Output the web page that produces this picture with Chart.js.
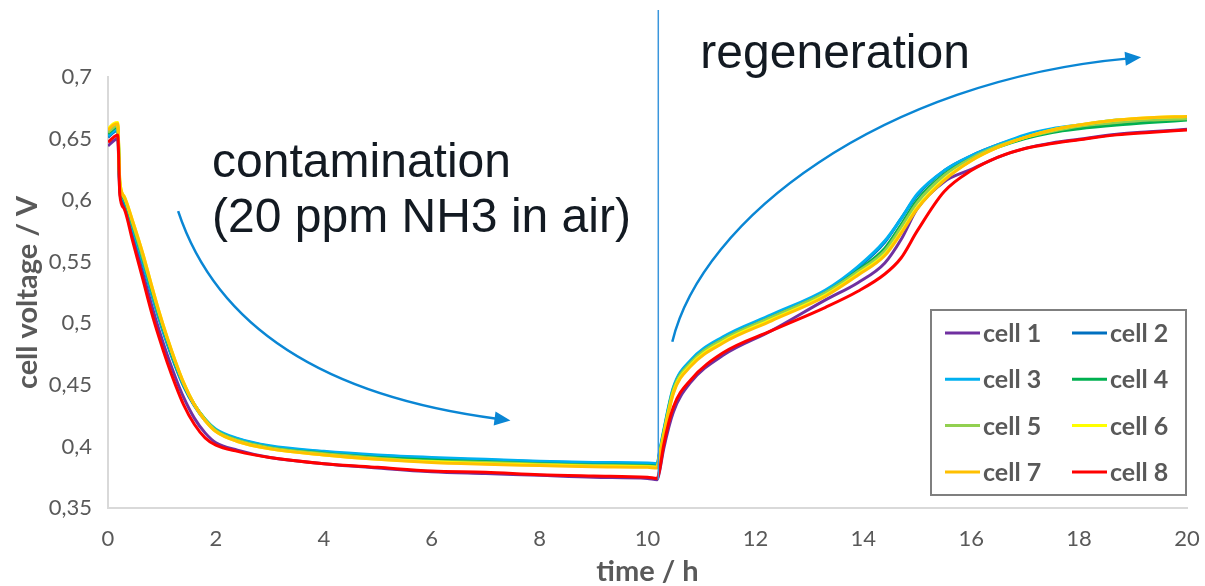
<!DOCTYPE html>
<html>
<head>
<meta charset="utf-8">
<script src="https://cdn.jsdelivr.net/npm/chart.js@4.4.1/dist/chart.umd.min.js"></script>
<style>
  html, body { margin: 0; padding: 0; background: #fff; }
  #wrap { width: 1205px; height: 586px; }
</style>
</head>
<body>
<div id="wrap"><canvas id="chart" width="1205" height="586"></canvas></div>
<script>
// time in hours
const hours = [0, 0.1, 0.18, 0.22, 0.3, 0.45, 0.65, 0.8, 0.95, 1.1, 1.25, 1.4, 1.6, 1.8, 2.0, 2.4, 3, 4, 5, 6, 7, 8, 9, 10, 10.18,
  10.22, 10.3, 10.48, 10.8, 11.4, 12.3, 13.3, 13.9, 14.4, 14.7, 15.0, 15.5, 16.0, 16.5, 17.0, 17.5, 18.0, 18.7, 19.3, 20];

// cell voltages / V
const cell1 = [0.644, 0.648, 0.650, 0.606, 0.596, 0.572, 0.540, 0.516, 0.494, 0.474, 0.456, 0.440, 0.423, 0.411, 0.403, 0.397, 0.391, 0.386, 0.3825, 0.3795, 0.378, 0.3765, 0.375, 0.374, 0.373,
  0.379, 0.398, 0.428, 0.452, 0.474, 0.494, 0.519, 0.533, 0.549, 0.568, 0.593, 0.615, 0.625, 0.635, 0.642, 0.6465, 0.6495, 0.6535, 0.6555, 0.6575];
const cell2 = [0.651, 0.655, 0.657, 0.609, 0.599, 0.578, 0.548, 0.525, 0.503, 0.483, 0.465, 0.449, 0.433, 0.421, 0.413, 0.406, 0.400, 0.3955, 0.3925, 0.3905, 0.389, 0.3875, 0.3865, 0.386, 0.3855,
  0.394, 0.412, 0.447, 0.469, 0.488, 0.506, 0.526, 0.545, 0.566, 0.585, 0.604, 0.624, 0.636, 0.645, 0.652, 0.657, 0.660, 0.663, 0.665, 0.666];
const cell3 = [0.652, 0.656, 0.658, 0.610, 0.600, 0.579, 0.549, 0.526, 0.504, 0.484, 0.466, 0.450, 0.434, 0.422, 0.414, 0.4065, 0.4005, 0.396, 0.393, 0.391, 0.3895, 0.388, 0.387, 0.3865, 0.386,
  0.395, 0.413, 0.448, 0.470, 0.489, 0.507, 0.527, 0.546, 0.567, 0.585, 0.605, 0.624, 0.636, 0.645, 0.653, 0.658, 0.661, 0.665, 0.666, 0.667];
const cell4 = [0.654, 0.658, 0.660, 0.612, 0.601, 0.581, 0.552, 0.529, 0.506, 0.486, 0.467, 0.451, 0.434, 0.422, 0.413, 0.405, 0.399, 0.3945, 0.391, 0.389, 0.3875, 0.386, 0.385, 0.3845, 0.384,
  0.393, 0.411, 0.446, 0.468, 0.487, 0.505, 0.525, 0.543, 0.561, 0.580, 0.600, 0.621, 0.634, 0.643, 0.650, 0.655, 0.658, 0.661, 0.663, 0.665];
const cell5 = [0.655, 0.659, 0.661, 0.613, 0.602, 0.582, 0.553, 0.530, 0.507, 0.487, 0.468, 0.451, 0.434, 0.422, 0.413, 0.405, 0.399, 0.394, 0.3905, 0.388, 0.387, 0.3855, 0.3845, 0.384, 0.3835,
  0.393, 0.411, 0.446, 0.468, 0.487, 0.505, 0.525, 0.542, 0.559, 0.578, 0.598, 0.620, 0.634, 0.644, 0.651, 0.656, 0.660, 0.663, 0.665, 0.666];
const cell6 = [0.658, 0.662, 0.663, 0.615, 0.603, 0.584, 0.556, 0.532, 0.509, 0.488, 0.469, 0.452, 0.434, 0.421, 0.412, 0.404, 0.398, 0.393, 0.3895, 0.3875, 0.386, 0.385, 0.384, 0.3835, 0.383,
  0.392, 0.409, 0.444, 0.466, 0.485, 0.503, 0.523, 0.540, 0.556, 0.574, 0.594, 0.617, 0.632, 0.643, 0.651, 0.657, 0.661, 0.665, 0.667, 0.668];
const cell7 = [0.657, 0.661, 0.662, 0.615, 0.603, 0.584, 0.556, 0.532, 0.509, 0.488, 0.469, 0.452, 0.434, 0.421, 0.412, 0.404, 0.398, 0.393, 0.3895, 0.387, 0.3855, 0.3845, 0.3835, 0.383, 0.3825,
  0.391, 0.408, 0.443, 0.465, 0.484, 0.502, 0.522, 0.539, 0.555, 0.573, 0.593, 0.616, 0.632, 0.643, 0.651, 0.657, 0.661, 0.665, 0.667, 0.668];
const cell8 = [0.647, 0.651, 0.653, 0.604, 0.593, 0.568, 0.535, 0.510, 0.488, 0.468, 0.450, 0.434, 0.418, 0.407, 0.401, 0.396, 0.391, 0.386, 0.383, 0.380, 0.379, 0.377, 0.376, 0.375, 0.374,
  0.380, 0.401, 0.432, 0.454, 0.476, 0.494, 0.513, 0.526, 0.540, 0.553, 0.575, 0.607, 0.624, 0.635, 0.642, 0.646, 0.649, 0.653, 0.655, 0.657];

const cellNames = ['cell 1', 'cell 2', 'cell 3', 'cell 4', 'cell 5', 'cell 6', 'cell 7', 'cell 8'];
const cellColors = ['#7030a0', '#0070c0', '#00b0f0', '#00b050', '#92d050', '#ffff00', '#ffc000', '#ff0000'];
const cellValues = [cell1, cell2, cell3, cell4, cell5, cell6, cell7, cell8];

const xTicksStep = 2;
const yTicksStep = 0.05;

// annotation anchors, in data units (h, V)
const switchTime = 10.2;
const contamArrow = [[1.30, 0.591], [2.37, 0.450], [7.46, 0.421]];
const regenArrow = [[10.46, 0.485], [11.0, 0.584], [14.32, 0.697], [19.15, 0.716]];

const gray = '#595959';

// legend drawn inside the plot, two columns
const boxLegend = {
  id: 'boxLegend',
  afterDatasetsDraw(chart) {
    const {ctx, chartArea} = chart;
    const w = 255, h = 185;
    const x0 = chartArea.right - w - 1, y0 = chartArea.bottom - h - 13;
    ctx.save();
    ctx.fillStyle = '#fff';
    ctx.fillRect(x0, y0, w, h);
    ctx.strokeStyle = '#7f7f7f';
    ctx.lineWidth = 2;
    ctx.strokeRect(x0, y0, w, h);
    ctx.font = 'bold 25px Lato';
    ctx.textBaseline = 'middle';
    chart.data.datasets.forEach((ds, i) => {
      const col = i % 2, row = Math.floor(i / 2);
      const lx = x0 + 14 + col * 127;
      const ly = y0 + 23 + row * 46.3;
      ctx.strokeStyle = ds.borderColor;
      ctx.lineWidth = 3;
      ctx.beginPath();
      ctx.moveTo(lx, ly);
      ctx.lineTo(lx + 35, ly);
      ctx.stroke();
      ctx.fillStyle = gray;
      ctx.fillText(ds.label, lx + 38, ly + 1);
    });
    ctx.restore();
  }
};

function arrowHead(ctx, from, tip) {
  const a = Math.atan2(tip[1] - from[1], tip[0] - from[0]);
  const len = 16, half = 7;
  ctx.beginPath();
  ctx.moveTo(tip[0], tip[1]);
  ctx.lineTo(tip[0] - len * Math.cos(a) + half * Math.sin(a), tip[1] - len * Math.sin(a) - half * Math.cos(a));
  ctx.lineTo(tip[0] - len * Math.cos(a) - half * Math.sin(a), tip[1] - len * Math.sin(a) + half * Math.cos(a));
  ctx.closePath();
  ctx.fill();
}

const notes = {
  id: 'notes',
  afterDraw(chart) {
    const {ctx} = chart;
    const xs = chart.scales.x, ys = chart.scales.y;
    const px = p => [xs.getPixelForValue(p[0]), ys.getPixelForValue(p[1])];
    ctx.save();

    // switch to regeneration
    ctx.strokeStyle = '#3a96dc';
    ctx.lineWidth = 1.5;
    ctx.beginPath();
    ctx.moveTo(xs.getPixelForValue(switchTime), 10);
    ctx.lineTo(xs.getPixelForValue(switchTime), ys.getPixelForValue(0.373));
    ctx.stroke();

    ctx.strokeStyle = '#0a86d4';
    ctx.fillStyle = '#0a86d4';
    ctx.lineWidth = 2.5;

    // contamination arrow (quadratic)
    let [a, c, b] = contamArrow.map(px);
    let ang = Math.atan2(b[1] - c[1], b[0] - c[0]);
    let end = [b[0] - 12 * Math.cos(ang), b[1] - 12 * Math.sin(ang)];
    ctx.beginPath();
    ctx.moveTo(a[0], a[1]);
    ctx.quadraticCurveTo(c[0], c[1], end[0], end[1]);
    ctx.stroke();
    arrowHead(ctx, c, b);

    // regeneration arrow (cubic)
    const [r0, r1, r2, r3] = regenArrow.map(px);
    ang = Math.atan2(r3[1] - r2[1], r3[0] - r2[0]);
    end = [r3[0] - 12 * Math.cos(ang), r3[1] - 12 * Math.sin(ang)];
    ctx.beginPath();
    ctx.moveTo(r0[0], r0[1]);
    ctx.bezierCurveTo(r1[0], r1[1], r2[0], r2[1], end[0], end[1]);
    ctx.stroke();
    arrowHead(ctx, r2, r3);

    // labels
    ctx.fillStyle = '#131a22';
    ctx.font = '48px "Liberation Sans", Arial, sans-serif';
    ctx.textBaseline = 'alphabetic';
    ctx.textAlign = 'left';
    let p = px([1.93, 0.6187]);
    ctx.fillText('contamination', p[0], p[1]);
    p = px([1.93, 0.5745]);
    ctx.fillText('(20 ppm NH3 in air)', p[0], p[1]);
    p = px([10.98, 0.707]);
    ctx.fillText('regeneration', p[0], p[1]);
    ctx.restore();
  }
};

const datasets = cellValues.map((vals, i) => ({
  label: cellNames[i],
  data: hours.map((t, k) => ({x: t, y: vals[k]})),
  borderColor: cellColors[i],
  backgroundColor: cellColors[i],
  borderWidth: 3,
  pointRadius: 0,
  cubicInterpolationMode: 'monotone',
  fill: false,
  order: cellValues.length - 1 - i
}));

new Chart(document.getElementById('chart'), {
  type: 'line',
  data: { datasets },
  options: {
    responsive: false,
    animation: false,
    layout: { padding: { top: 77, right: 18, left: 0, bottom: 0 } },
    plugins: {
      legend: { display: false },
      tooltip: { enabled: false }
    },
    scales: {
      x: {
        type: 'linear',
        min: 0,
        max: 20,
        afterFit(scale) {
          scale.height = 78;
          scale.paddingLeft = 0;
          scale.paddingRight = 0;
        },
        grid: { display: false, drawTicks: false },
        border: { display: true, color: '#d9d9d9', width: 2 },
        ticks: {
          stepSize: xTicksStep,
          padding: 18,
          color: gray,
          font: { family: 'Lato', size: 22 }
        },
        title: {
          display: true,
          text: 'time / h',
          color: gray,
          font: { family: 'Lato', size: 29, weight: 'bold', lineHeight: 1 },
          padding: { top: 0, bottom: 0 }
        }
      },
      y: {
        min: 0.35,
        max: 0.7,
        afterFit(scale) { scale.width = 108; },
        grid: { display: false, drawTicks: false },
        border: { display: true, color: '#d9d9d9', width: 2 },
        ticks: {
          stepSize: yTicksStep,
          padding: 16,
          color: gray,
          font: { family: 'Lato', size: 22 },
          callback: v => String(Number(v.toFixed(2))).replace('.', ',')
        },
        title: {
          display: true,
          text: 'cell voltage / V',
          color: gray,
          font: { family: 'Lato', size: 29, weight: 'bold', lineHeight: 1 },
          padding: { top: 13, bottom: 0 }
        }
      }
    }
  },
  plugins: [boxLegend, notes]
});
</script>
</body>
</html>
